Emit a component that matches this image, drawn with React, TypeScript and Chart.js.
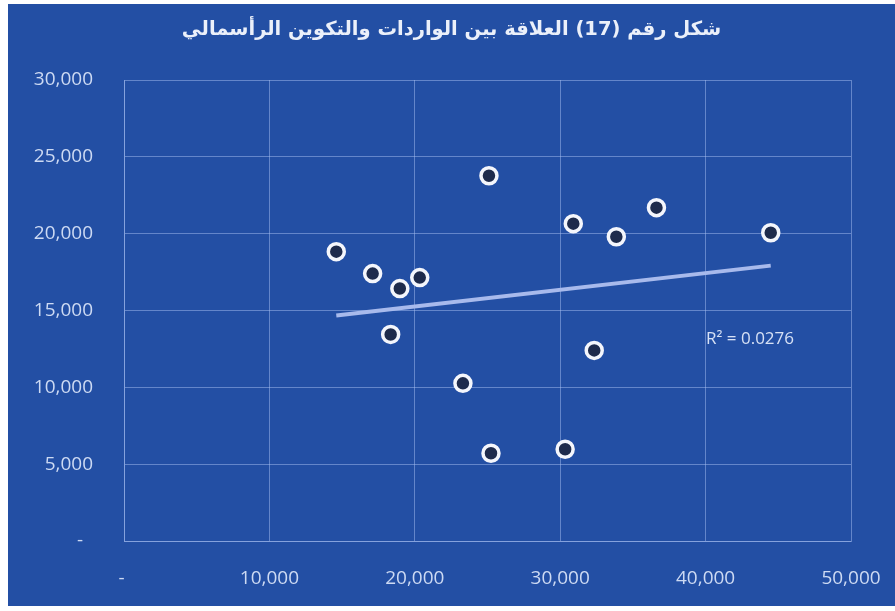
import { useEffect, useRef } from "react";
import { Chart, registerables } from "chart.js";

Chart.register(...registerables);

const chartTitle = "شكل رقم (17) العلاقة بين الواردات والتكوين الرأسمالي";
const r2Label = "R² = 0.0276";

// imports (x) vs capital formation (y)
const xValues = [14600, 17100, 18970, 20340, 18340, 25100, 23310, 25240, 30900, 30340, 33860, 32340, 36620, 44480];
const yValues = [18830, 17400, 16430, 17140, 13440, 23770, 10260, 5710, 20650, 5970, 19800, 12400, 21690, 20060];

const xTicks = [0, 10000, 20000, 30000, 40000, 50000];
const yTicks = [0, 5000, 10000, 15000, 20000, 25000, 30000];

function linreg(xs: number[], ys: number[]) {
  const n = xs.length;
  const mx = xs.reduce((a, b) => a + b, 0) / n;
  const my = ys.reduce((a, b) => a + b, 0) / n;
  let sxy = 0;
  let sxx = 0;
  for (let i = 0; i < n; i++) {
    sxy += (xs[i] - mx) * (ys[i] - my);
    sxx += (xs[i] - mx) * (xs[i] - mx);
  }
  const slope = sxy / sxx;
  return { slope, intercept: my - slope * mx };
}

const fmt = (v: number) => (v === 0 ? "- " : v.toLocaleString("en-US"));

const BG = "rgb(35,79,164)";
const GRID = "rgba(165,190,240,0.5)";
const TICK = "rgb(205,218,243)";

export default function App() {
  const ref = useRef<HTMLCanvasElement>(null);

  useEffect(() => {
    if (!ref.current) return;
    const points = xValues.map((x, i) => ({ x, y: yValues[i] }));
    const { slope, intercept } = linreg(xValues, yValues);
    const xMin = Math.min(...xValues);
    const xMax = Math.max(...xValues);
    const trend = [
      { x: xMin, y: intercept + slope * xMin },
      { x: xMax, y: intercept + slope * xMax },
    ];

    const bgPlugin = {
      id: "bg",
      beforeDraw(chart: any) {
        const { ctx, width, height } = chart;
        ctx.save();
        ctx.fillStyle = BG;
        ctx.fillRect(0, 0, width, height);
        ctx.restore();
      },
    };

    const textPlugin = {
      id: "texts",
      afterDraw(chart: any) {
        const { ctx, chartArea, width } = chart;
        ctx.save();
        // chart title
        ctx.fillStyle = "rgb(235,240,250)";
        ctx.font = "bold 19.5px 'DejaVu Sans'";
        ctx.textBaseline = "middle";
        ctx.textAlign = "center";
        ctx.fillText(chartTitle, width / 2, 26);
        // trendline R² label
        ctx.fillStyle = "rgb(215,225,245)";
        ctx.font = "17px 'Open Sans'";
        ctx.textAlign = "left";
        ctx.fillText(r2Label, chartArea.left + 582, chartArea.top + 259);
        ctx.restore();
      },
    };

    const chart = new Chart(ref.current, {
      type: "scatter",
      data: {
        datasets: [
          {
            type: "line",
            data: trend,
            borderColor: "rgb(168,186,236)",
            borderWidth: 4,
            pointRadius: 0,
            fill: false,
            order: 2,
          } as any,
          {
            data: points,
            pointRadius: 8,
            pointBorderWidth: 3.5,
            pointBackgroundColor: "rgb(30,43,76)",
            pointBorderColor: "rgb(244,246,252)",
            order: 1,
          },
        ],
      },
      options: {
        responsive: false,
        animation: false,
        devicePixelRatio: 1,
        layout: { padding: { left: 0, right: 44, top: 76, bottom: 0 } },
        plugins: {
          legend: { display: false },
          tooltip: { enabled: false },
          title: { display: false },
        },
        scales: {
          x: {
            type: "linear",
            min: 0,
            max: 50000,
            afterBuildTicks: (s: any) => {
              s.ticks = xTicks.map((v) => ({ value: v }));
            },
            ticks: {
              callback: (v: any) => fmt(Number(v)),
              color: TICK,
              font: { family: "'Open Sans'", size: 19 },
              padding: 26,
              maxRotation: 0,
            },
            grid: { color: GRID, drawTicks: false, lineWidth: 1 },
            border: { color: GRID },
            afterFit: (s: any) => {
              s.height = 65;
              s.paddingLeft = 0;
              s.paddingRight = 0;
            },
          },
          y: {
            type: "linear",
            min: 0,
            max: 30000,
            afterBuildTicks: (s: any) => {
              s.ticks = yTicks.map((v) => ({ value: v }));
            },
            ticks: {
              callback: (v: any) => (Number(v) === 0 ? "-  " : fmt(Number(v))),
              color: TICK,
              font: { family: "'Open Sans'", size: 19 },
              padding: 31,
            },
            grid: { color: GRID, drawTicks: false, lineWidth: 1 },
            border: { color: GRID },
            afterFit: (s: any) => {
              s.width = 116;
              s.paddingTop = 0;
              s.paddingBottom = 0;
            },
          },
        },
      },
      plugins: [bgPlugin, textPlugin],
    });
    return () => chart.destroy();
  }, []);

  return (
    <div style={{ position: "absolute", left: 8, top: 4 }}>
      <canvas ref={ref} width={887} height={602} style={{ display: "block", width: 887, height: 602 }} />
    </div>
  );
}
